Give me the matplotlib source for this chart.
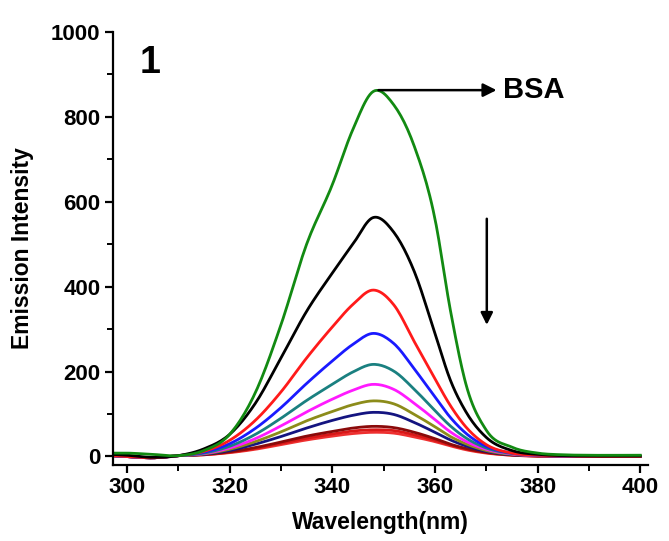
import numpy as np
import matplotlib
matplotlib.use("Agg")
import matplotlib.pyplot as plt
from matplotlib.ticker import MultipleLocator

plt.rcParams['font.family'] = ['Liberation Sans', 'DejaVu Sans']
plt.rcParams['font.weight'] = 'bold'

wavelength = [297, 300, 305, 310, 315, 320, 325, 330, 335, 340, 344, 348, 352,
              356, 360, 363, 366, 370, 375, 380, 385, 390, 400]

green   = [8, 8, 5, 2, 14, 52, 150, 310, 500, 640, 770, 860, 828, 730, 560, 345, 172, 62, 22, 8, 4, 3, 3]
black   = [5, 3, -2, 2, 18, 52, 125, 232, 342, 432, 500, 563, 528, 435, 290, 180, 106, 45, 14, 5, 2, 1, 1]
red     = [2, 0, -3, 2, 12, 38, 85, 152, 232, 305, 358, 392, 357, 270, 183, 120, 70, 28, 8, 3, 1, 0, 0]
blue    = [2, 0, -3, 2, 10, 30, 66, 115, 172, 225, 264, 290, 266, 206, 140, 92, 55, 24, 8, 3, 1, 0, 0]
teal    = [2, 0, -3, 2, 8, 24, 52, 90, 132, 170, 199, 217, 201, 158, 108, 72, 44, 20, 7, 3, 1, 0, 0]
magenta = [2, 0, -3, 2, 7, 20, 42, 72, 105, 135, 156, 170, 158, 125, 87, 58, 36, 17, 6, 2, 1, 0, 0]
olive   = [2, 0, -3, 2, 6, 17, 35, 58, 84, 106, 122, 131, 124, 99, 70, 47, 30, 14, 5, 2, 1, 0, 0]
navy    = [2, 0, -3, 2, 5, 14, 29, 47, 67, 85, 97, 104, 99, 80, 57, 39, 25, 12, 4, 2, 1, 0, 0]
maroon  = [2, 0, -3, 2, 5, 11, 21, 34, 48, 59, 67, 71, 68, 57, 42, 29, 19, 10, 4, 1, 0, 0, 0]
red2    = [2, 0, -3, 2, 4, 10, 19, 31, 43, 53, 60, 63, 61, 51, 38, 27, 18, 9, 3, 1, 0, 0, 0]
red3    = [2, 0, -3, 2, 4, 9, 17, 28, 39, 48, 54, 57, 55, 46, 35, 25, 16, 8, 3, 1, 0, 0, 0]

series = [green, black, red, blue, teal, magenta, olive, navy, maroon, red2, red3]
colors = ['#128a12', '#000000', '#ff1a1a', '#1a1aff', '#1a8080', '#ff1aff',
          '#8c8c1a', '#141480', '#8a0a0a', '#d81818', '#ee3030']


def smooth(x, y, n=12):
    x = np.asarray(x, float)
    y = np.asarray(y, float)
    m = np.gradient(y, x)
    xs, ys = [], []
    for i in range(len(x) - 1):
        h = x[i + 1] - x[i]
        t = np.linspace(0, 1, n, endpoint=False)
        h00 = 2 * t**3 - 3 * t**2 + 1
        h10 = t**3 - 2 * t**2 + t
        h01 = -2 * t**3 + 3 * t**2
        h11 = t**3 - t**2
        xs.append(x[i] + t * h)
        ys.append(h00 * y[i] + h10 * h * m[i] + h01 * y[i + 1] + h11 * h * m[i + 1])
    xs.append([x[-1]])
    ys.append([y[-1]])
    return np.concatenate(xs), np.concatenate(ys)


fig = plt.figure(figsize=(6.69, 5.41), dpi=100)
ax = fig.add_axes([0.169, 0.1405, 0.7996, 0.8004])

for s, c in zip(reversed(series), reversed(colors)):
    xs, ys = smooth(wavelength, s)
    ax.plot(xs, ys, color=c, lw=2.0)

ax.set_xlim(297.3, 401.5)
ax.set_ylim(-20, 1000)
ax.spines['top'].set_visible(False)
ax.spines['right'].set_visible(False)
ax.spines['left'].set_linewidth(1.6)
ax.spines['bottom'].set_linewidth(1.6)
ax.xaxis.set_major_locator(MultipleLocator(20))
ax.xaxis.set_minor_locator(MultipleLocator(10))
ax.yaxis.set_major_locator(MultipleLocator(200))
ax.yaxis.set_minor_locator(MultipleLocator(100))
ax.tick_params(which='major', direction='out', length=6, width=1.6, labelsize=16, pad=3)
ax.tick_params(which='minor', direction='out', length=4, width=1.4)
for lab in ax.get_xticklabels() + ax.get_yticklabels():
    lab.set_fontweight('bold')

ax.set_xlabel('Wavelength(nm)', fontsize=16.5, fontweight='bold', labelpad=9)
ax.set_ylabel('Emission Intensity', fontsize=16.5, fontweight='bold', labelpad=12)

ax.text(304.5, 928, '1', fontsize=27, fontweight='bold', ha='center', va='center')
ax.annotate('', xy=(372.0, 863), xytext=(349.0, 863),
            arrowprops=dict(arrowstyle='-|>', color='black', lw=1.8,
                            mutation_scale=20, shrinkA=0, shrinkB=0))
ax.text(373.3, 863, 'BSA', fontsize=21, fontweight='bold', ha='left', va='center')
ax.annotate('', xy=(370.1, 310), xytext=(370.1, 560),
            arrowprops=dict(arrowstyle='-|>', color='black', lw=1.8,
                            mutation_scale=18, shrinkA=0, shrinkB=0))

fig.savefig('out.png', dpi=100)
